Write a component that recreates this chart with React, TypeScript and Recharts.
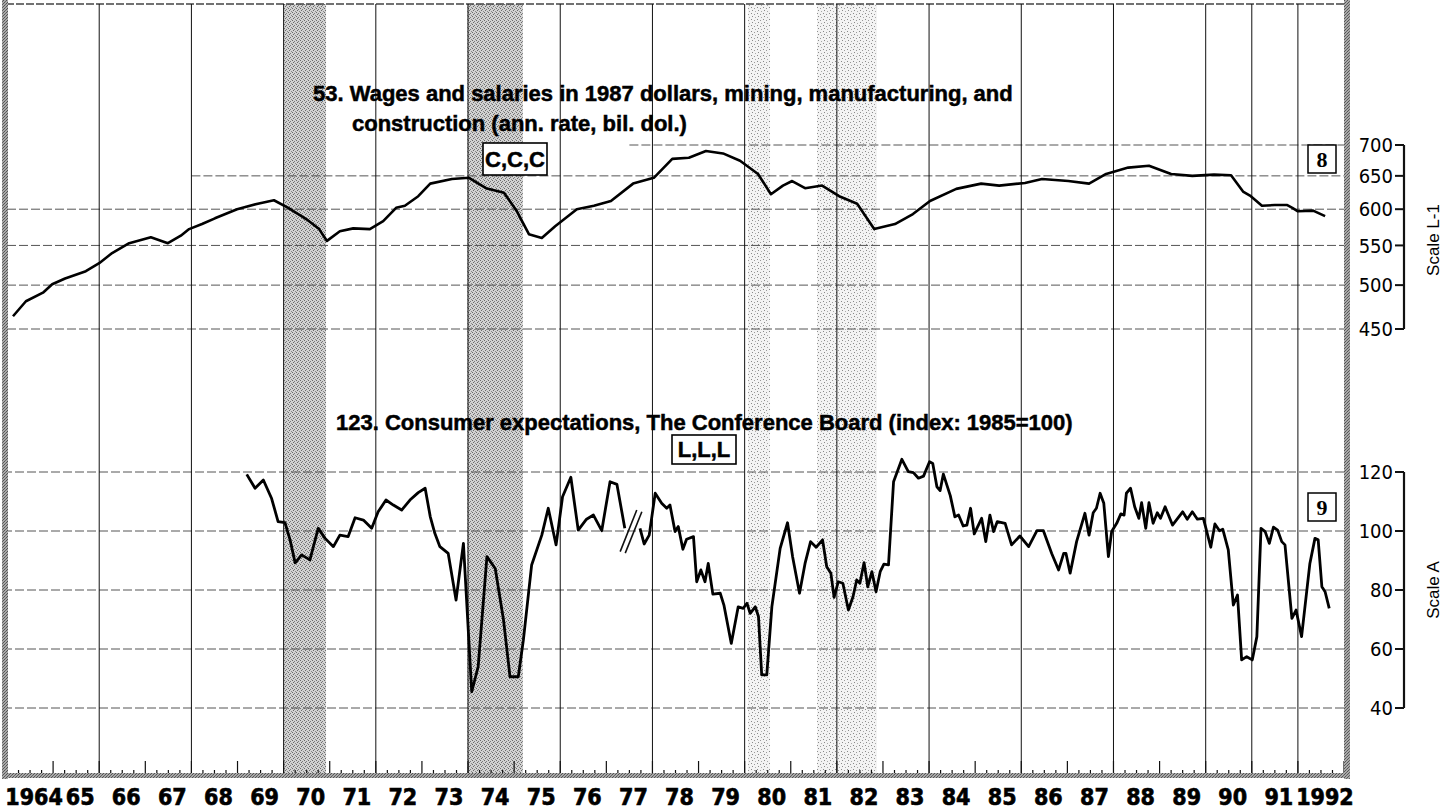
import React from 'react';
import { ComposedChart, Line, XAxis, YAxis, ReferenceLine, ReferenceArea } from 'recharts';

// ---------- layout ----------
const W = 1456;
const H = 812;
const PLOT_L = 7;
const PLOT_R = 1344;
const PLOT_T = 4;
const PLOT_B = 776;
const X0 = 1964;
const X1 = 1993;
const AXIS_X = 1404;

// scale anchors (value -> pixel row)
const W_HI = 700, W_HI_PX = 145, W_LO = 450, W_LO_PX = 329;
const E_HI = 120, E_HI_PX = 472, E_LO = 40, E_LO_PX = 708;

// ---------- data ----------
const yearLabels = ['1964', '65', '66', '67', '68', '69', '70', '71', '72', '73', '74', '75', '76', '77', '78', '79', '80', '81', '82', '83', '84', '85', '86', '87', '88', '89', '90', '91', '1992'];

const recessionStart = [1970.01, 1973.98, 1980.07, 1981.57];
const recessionEnd = [1970.92, 1975.19, 1980.55, 1982.87];
const recessionTone = ['dark', 'dark', 'light', 'light'];

const gridYears = [1966, 1968, 1970, 1972, 1974, 1976, 1978, 1980, 1982, 1984, 1986, 1988, 1990, 1991, 1992];

const wageTicks = [450, 500, 550, 600, 650, 700];
const wageGridStart = [1964, 1964, 1964, 1964, 1968, 1977.5];
const expTicks = [40, 60, 80, 100, 120];

// Series 53: wages and salaries in 1987 dollars (bil. dol.)
const wageYears = [
  1964.13, 1964.41, 1964.78, 1964.98, 1965.26, 1965.71, 1966.0, 1966.28, 1966.65, 1967.12,
  1967.49, 1967.77, 1967.95, 1968.23, 1968.51, 1968.99, 1969.44, 1969.79, 1970.1, 1970.49,
  1970.77, 1970.94, 1971.22, 1971.51, 1971.87, 1972.16, 1972.44, 1972.63, 1972.92, 1973.18,
  1973.65, 1974.02, 1974.39, 1974.78, 1975.06, 1975.32, 1975.6, 1975.89, 1976.36, 1976.73,
  1977.1, 1977.58, 1978.03, 1978.43, 1978.79, 1979.16, 1979.53, 1979.9, 1980.29, 1980.57,
  1980.83, 1981.03, 1981.31, 1981.68, 1982.05, 1982.44, 1982.81, 1983.26, 1983.65, 1984.02,
  1984.59, 1985.13, 1985.52, 1986.08, 1986.45, 1987.02, 1987.47, 1987.84, 1988.32, 1988.77,
  1989.25, 1989.71, 1990.18, 1990.55, 1990.81, 1990.96, 1991.22, 1991.5, 1991.77, 1991.88,
  1992.0, 1992.33, 1992.59,
];
const wageValues = [
  464, 481, 491, 501, 508, 517, 527, 540, 553, 561,
  553, 563, 572, 579, 587, 600, 608, 613, 602, 586,
  572, 556, 569, 573, 572, 583, 602, 605, 619, 638,
  645, 647, 631, 624, 597, 565, 560, 576, 600, 605,
  612, 638, 647, 677, 679, 690, 686, 674, 653, 622,
  635, 642, 631, 635, 619, 608, 572, 579, 593, 612,
  630, 638, 635, 639, 645, 642, 638, 653, 663, 666,
  653, 650, 652, 651, 626, 620, 605, 606, 606, 602,
  597, 598, 590,
];

// Series 123: consumer expectations (index 1985=100); null marks the series break
const expYears = [
  1969.2, 1969.38, 1969.56, 1969.74, 1969.88, 1970.03, 1970.14, 1970.25, 1970.39, 1970.57,
  1970.75, 1970.9, 1971.08, 1971.22, 1971.4, 1971.55, 1971.73, 1971.91, 1972.05, 1972.22,
  1972.38, 1972.56, 1972.74, 1972.92, 1973.07, 1973.18, 1973.28, 1973.39, 1973.57, 1973.74,
  1973.9, 1974.08, 1974.22, 1974.41, 1974.59, 1974.77, 1974.91, 1975.09, 1975.2, 1975.38,
  1975.6, 1975.74, 1975.91, 1976.05, 1976.23, 1976.39, 1976.57, 1976.72, 1976.9, 1977.08,
  1977.23, 1977.4, 1977.56, 1977.73, 1977.82, 1977.93, 1978.06, 1978.2, 1978.31, 1978.38,
  1978.49, 1978.56, 1978.66, 1978.74, 1978.89, 1978.96, 1979.05, 1979.14, 1979.21, 1979.31,
  1979.47, 1979.55, 1979.71, 1979.86, 1979.97, 1980.05, 1980.12, 1980.23, 1980.3, 1980.37,
  1980.48, 1980.59, 1980.77, 1980.93, 1981.04, 1981.19, 1981.31, 1981.43, 1981.55, 1981.69,
  1981.78, 1981.87, 1981.94, 1982.03, 1982.13, 1982.25, 1982.35, 1982.43, 1982.5, 1982.59,
  1982.67, 1982.76, 1982.85, 1982.94, 1983.02, 1983.12, 1983.23, 1983.41, 1983.55, 1983.66,
  1983.77, 1983.88, 1984.01, 1984.08, 1984.17, 1984.24, 1984.31, 1984.46, 1984.56, 1984.64,
  1984.74, 1984.82, 1984.9, 1984.98, 1985.14, 1985.23, 1985.32, 1985.4, 1985.48, 1985.65,
  1985.79, 1985.97, 1986.16, 1986.34, 1986.48, 1986.66, 1986.81, 1986.92, 1986.97, 1987.06,
  1987.2, 1987.38, 1987.47, 1987.56, 1987.63, 1987.71, 1987.79, 1987.89, 1987.96, 1988.07,
  1988.16, 1988.23, 1988.28, 1988.37, 1988.46, 1988.55, 1988.61, 1988.7, 1988.77, 1988.86,
  1988.95, 1989.02, 1989.12, 1989.28, 1989.5, 1989.6, 1989.71, 1989.82, 1989.95, 1990.11,
  1990.2, 1990.3, 1990.37, 1990.49, 1990.6, 1990.69, 1990.78, 1990.89, 1991.01, 1991.11,
  1991.2, 1991.29, 1991.38, 1991.47, 1991.56, 1991.65, 1991.72, 1991.87, 1991.96, 1992.08,
  1992.26, 1992.37, 1992.44, 1992.52, 1992.59, 1992.68,
];
const expValues: (number | null)[] = [
  119.2, 114.5, 117.3, 111, 103.2, 102.8, 97, 89.2, 91.9, 90.2,
  100.9, 97.5, 94.7, 98.6, 98.1, 104.5, 103.7, 100.9, 106.5, 110.5,
  108.8, 107.1, 110.5, 113, 114.5, 104.9, 99.2, 94.7, 92.4, 76.6,
  95.8, 45.5, 54, 91.3, 87.3, 69.8, 50.6, 50.6, 63, 88.5,
  98.6, 107.7, 95.3, 111.6, 118.2, 100.3, 104, 105.4, 100.1, 116.7,
  115.8, 100.9, null, 100.9, 95.6, 98.6, 112.8, 109.4, 107.7, 108.8,
  99.8, 101.5, 93.8, 97.2, 98.1, 82.8, 86.8, 82.8, 89, 78.6,
  78.9, 74.9, 61.9, 74.3, 73.8, 75.5, 72.1, 74.3, 71, 51.2,
  51.2, 74.3, 94.1, 102.8, 91.3, 78.9, 89, 96.4, 94.5, 97,
  87.9, 85.7, 77.5, 82.8, 82.3, 73.2, 77.7, 83.4, 82.3, 89.3,
  81.1, 86.2, 79.4, 86.2, 88.8, 88.5, 116.7, 124.3, 120.1, 119.8,
  117.9, 118.6, 123.5, 122.9, 115, 113.7, 119.3, 112, 104.8, 105.4,
  101.7, 102, 107.7, 99, 104.3, 96.4, 105.4, 99.8, 103.2, 102.6,
  95.3, 98.3, 94.7, 100.1, 100.1, 92.4, 86.8, 92.4, 92.4, 85.7,
  96.4, 106, 98.6, 106.2, 107.7, 112.8, 109.4, 91.3, 99.8, 102.6,
  105.8, 105.4, 112.8, 114.5, 108.2, 104.3, 109.6, 100.9, 109.6, 102.6,
  106.2, 104.3, 108.2, 102, 106.5, 104, 106.5, 104, 104.3, 94.5,
  102.4, 100.1, 100.6, 93.6, 74.9, 78.3, 56.3, 57.4, 56.3, 64.2,
  100.9, 99.8, 95.8, 101.3, 100.3, 96.4, 95.3, 70.4, 73.2, 64.2,
  89, 97.5, 97, 81.1, 79.4, 73.8,
];

// ---------- derived ----------
const wageData = wageYears.map((x, i) => ({ x, w: wageValues[i] }));
const expData = expYears.map((x, i) => ({ x, e: expValues[i] }));

const kW = (W_LO_PX - W_HI_PX) / Math.log10(W_HI / W_LO);
const wDomain = [
  Math.pow(10, Math.log10(W_LO) - (PLOT_B - W_LO_PX) / kW),
  Math.pow(10, Math.log10(W_HI) + (W_HI_PX - PLOT_T) / kW),
];
const kE = (E_LO_PX - E_HI_PX) / (E_HI - E_LO);
const eDomain = [E_LO - (PLOT_B - E_LO_PX) / kE, E_HI + (E_HI_PX - PLOT_T) / kE];
const eAtPx = (px: number) => E_HI - (px - E_HI_PX) / kE;
const xAtPx = (px: number) => X0 + ((px - PLOT_L) * (X1 - X0)) / (PLOT_R - PLOT_L);

const quarterMarks: number[] = [];
for (let q = X0 * 4; q <= X1 * 4; q++) quarterMarks.push(q / 4);
const yearMid = yearLabels.map((_, i) => X0 + i + 0.5);

const SANS = "'Liberation Sans', Arial, Helvetica, sans-serif";
const NARROW = "'Liberation Sans Narrow', 'Arial Narrow', 'DejaVu Sans Condensed', sans-serif";
const SERIF = "'Liberation Serif', 'DejaVu Serif', serif";

const XTick = (props: any) => {
  const { x, payload } = props;
  const idx = Math.floor(payload.value) - X0;
  return (
    <text x={x + 4} y={PLOT_B + 29} textAnchor="middle" fontFamily={NARROW} fontWeight={700} fontSize={23} fill="#000" stroke="#000" strokeWidth={0.6}>
      {yearLabels[idx]}
    </text>
  );
};

const YTick = (props: any) => {
  const { y, payload } = props;
  return (
    <g>
      <line x1={AXIS_X - 9} x2={AXIS_X} y1={y} y2={y} stroke="#111" strokeWidth={2} />
      <text x={AXIS_X - 11} y={y} dy="0.36em" textAnchor="end" fontFamily={NARROW} fontSize={20} fill="#000">
        {payload.value}
      </text>
    </g>
  );
};

const titleStyle = { fontFamily: SANS, fontWeight: 700, fontSize: 22, fill: '#000', stroke: '#000', strokeWidth: 0.5 } as const;

export default function App() {
  return (
    <div style={{ position: 'absolute', left: 0, top: 0, width: W, height: H, background: '#fff', overflow: 'hidden' }}>
      <svg width={0} height={0} style={{ position: 'absolute' }}>
        <defs>
          <pattern id="stipDark" width={4} height={4} patternUnits="userSpaceOnUse">
            <rect width={4} height={4} fill="#d2d2d2" />
            <rect x={0} y={0} width={1} height={1} fill="#6a6a6a" />
            <rect x={2} y={1} width={1} height={1} fill="#7a7a7a" />
            <rect x={1} y={2} width={1} height={1} fill="#6a6a6a" />
            <rect x={3} y={3} width={1} height={1} fill="#8a8a8a" />
          </pattern>
          <pattern id="stipLight" width={6} height={6} patternUnits="userSpaceOnUse">
            <rect width={6} height={6} fill="#f3f3f3" />
            <rect x={1} y={1} width={1} height={1} fill="#8a8a8a" />
            <rect x={4} y={2} width={1} height={1} fill="#999" />
            <rect x={2} y={4} width={1} height={1} fill="#8a8a8a" />
            <rect x={5} y={5} width={1} height={1} fill="#aaa" />
          </pattern>
          <pattern id="stipEdge" width={3} height={3} patternUnits="userSpaceOnUse">
            <rect width={3} height={3} fill="#a8a8a8" />
            <rect x={0} y={0} width={1} height={1} fill="#555" />
            <rect x={2} y={1} width={1} height={1} fill="#666" />
            <rect x={1} y={2} width={1} height={1} fill="#555" />
          </pattern>
        </defs>
      </svg>

      <ComposedChart width={W} height={H} margin={{ top: PLOT_T, right: 0, bottom: 6, left: PLOT_L }}>
        <XAxis
          xAxisId="x"
          type="number"
          dataKey="x"
          domain={[X0, X1]}
          allowDataOverflow
          ticks={yearMid}
          interval={0}
          tick={<XTick />}
          tickLine={false}
          axisLine={false}
          height={30}
        />
        <YAxis
          yAxisId="w"
          orientation="right"
          scale="log"
          domain={wDomain}
          allowDataOverflow
          ticks={wageTicks}
          interval={0}
          tick={<YTick />}
          tickLine={false}
          axisLine={false}
          width={56}
        />
        <YAxis
          yAxisId="e"
          orientation="right"
          type="number"
          domain={eDomain}
          allowDataOverflow
          ticks={expTicks}
          interval={0}
          tick={<YTick />}
          tickLine={false}
          axisLine={false}
          width={56}
        />

        {recessionStart.map((s, i) => (
          <ReferenceArea
            key={`rec${i}`}
            xAxisId="x"
            yAxisId="e"
            x1={s}
            x2={recessionEnd[i]}
            y1={eDomain[0]}
            y2={eDomain[1]}
            fill={recessionTone[i] === 'dark' ? 'url(#stipDark)' : 'url(#stipLight)'}
            fillOpacity={1}
            stroke="none"
            ifOverflow="visible"
          />
        ))}

        {wageTicks.map((v, i) => (
          <ReferenceLine
            key={`wg${v}`}
            xAxisId="x"
            yAxisId="w"
            segment={[{ x: wageGridStart[i], y: v }, { x: X1, y: v }]}
            stroke="#555"
            strokeDasharray="9 3"
            strokeWidth={1}
            ifOverflow="visible"
          />
        ))}
        {expTicks.map((v) => (
          <ReferenceLine key={`eg${v}`} xAxisId="x" yAxisId="e" y={v} stroke="#555" strokeDasharray="9 3" strokeWidth={1} />
        ))}
        <ReferenceLine xAxisId="x" yAxisId="e" y={eDomain[1]} stroke="#444" strokeDasharray="8 2" strokeWidth={1.5} ifOverflow="visible" />

        {gridYears.map((yr) => (
          <ReferenceLine key={`vy${yr}`} xAxisId="x" yAxisId="e" x={yr} stroke="#111" strokeWidth={1} />
        ))}

        {quarterMarks.map((q) => {
          const isYear = Math.abs(q - Math.round(q)) < 1e-6;
          return (
            <ReferenceLine
              key={`qm${q}`}
              xAxisId="x"
              yAxisId="e"
              segment={[{ x: q, y: eAtPx(PLOT_B) }, { x: q, y: eAtPx(PLOT_B - (isYear ? 15 : 6)) }]}
              stroke="#111"
              strokeWidth={1.2}
              ifOverflow="visible"
            />
          );
        })}

        {/* right-hand scale lines */}
        <ReferenceLine
          xAxisId="x"
          yAxisId="w"
          segment={[{ x: xAtPx(AXIS_X), y: W_LO }, { x: xAtPx(AXIS_X), y: W_HI }]}
          stroke="#111"
          strokeWidth={2.2}
          ifOverflow="visible"
        />
        <ReferenceLine
          xAxisId="x"
          yAxisId="e"
          segment={[{ x: xAtPx(AXIS_X), y: E_LO }, { x: xAtPx(AXIS_X), y: E_HI }]}
          stroke="#111"
          strokeWidth={2.2}
          ifOverflow="visible"
        />

        {/* series break mark */}
        <ReferenceLine xAxisId="x" yAxisId="e" segment={[{ x: 1977.3, y: 93.0 }, { x: 1977.66, y: 107.1 }]} stroke="#111" strokeWidth={1.6} ifOverflow="visible" />
        <ReferenceLine xAxisId="x" yAxisId="e" segment={[{ x: 1977.41, y: 92.5 }, { x: 1977.77, y: 106.5 }]} stroke="#111" strokeWidth={1.6} ifOverflow="visible" />

        <Line
          xAxisId="x"
          yAxisId="w"
          data={wageData}
          dataKey="w"
          type="linear"
          stroke="#000"
          strokeWidth={2.6}
          dot={false}
          isAnimationActive={false}
          strokeLinejoin="round"
        />
        <Line
          xAxisId="x"
          yAxisId="e"
          data={expData}
          dataKey="e"
          type="linear"
          stroke="#000"
          strokeWidth={2.8}
          dot={false}
          connectNulls={false}
          isAnimationActive={false}
          strokeLinejoin="round"
        />
      </ComposedChart>

      <svg width={W} height={H} style={{ position: 'absolute', left: 0, top: 0, pointerEvents: 'none' }}>
        {/* scanned frame */}
        <rect x={2} y={0} width={6} height={779} fill="url(#stipEdge)" />
        <rect x={1344} y={0} width={6} height={779} fill="url(#stipEdge)" />
        <rect x={2} y={773} width={1348} height={5} fill="url(#stipEdge)" />

        <text x={313} y={101} {...titleStyle}>
          53. Wages and salaries in 1987 dollars, mining, manufacturing, and
        </text>
        <text x={352} y={131} {...titleStyle}>
          construction (ann. rate, bil. dol.)
        </text>
        <rect x={483} y={143} width={64} height={32} fill="#fff" stroke="#000" strokeWidth={1.6} />
        <text x={515} y={167} textAnchor="middle" {...titleStyle}>
          C,C,C
        </text>

        <text x={336} y={430} {...titleStyle}>
          123. Consumer expectations, The Conference Board (index: 1985=100)
        </text>
        <rect x={672} y={435} width={64} height={29} fill="#fff" stroke="#000" strokeWidth={1.6} />
        <text x={704} y={457} textAnchor="middle" {...titleStyle}>
          L,L,L
        </text>

        <rect x={1308} y={145} width={28} height={28} fill="#fff" stroke="#000" strokeWidth={1.5} />
        <text x={1322} y={167} textAnchor="middle" fontFamily={SERIF} fontWeight={700} fontSize={22} fill="#000">
          8
        </text>
        <rect x={1308} y={493} width={28} height={28} fill="#fff" stroke="#000" strokeWidth={1.5} />
        <text x={1322} y={515} textAnchor="middle" fontFamily={SERIF} fontWeight={700} fontSize={22} fill="#000">
          9
        </text>

        <text x={1439} y={240} transform="rotate(-90 1439 240)" textAnchor="middle" fontFamily={SANS} fontSize={17} fill="#000">
          Scale L-1
        </text>
        <text x={1439} y={590} transform="rotate(-90 1439 590)" textAnchor="middle" fontFamily={SANS} fontSize={17} fill="#000">
          Scale A
        </text>
      </svg>
    </div>
  );
}
